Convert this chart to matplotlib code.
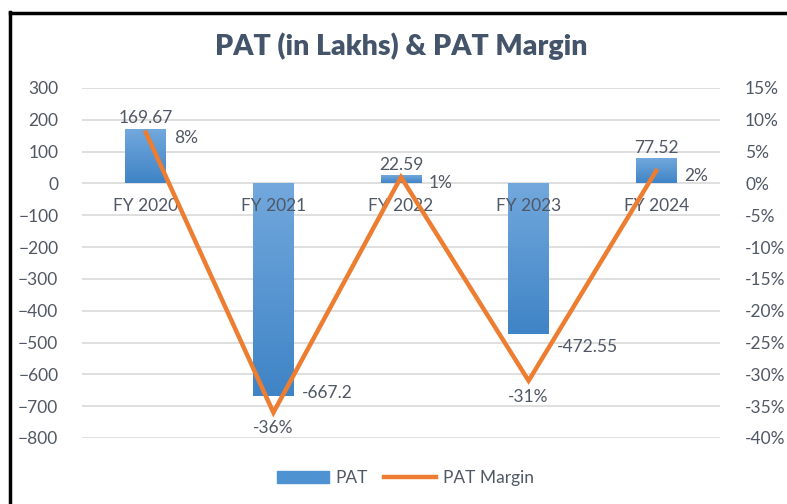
import matplotlib.pyplot as plt
from matplotlib.lines import Line2D
from matplotlib.ticker import FuncFormatter
from matplotlib.colors import LinearSegmentedColormap
import numpy as np

plt.rcParams['font.family'] = ['Lato', 'DejaVu Sans']

# Data
years = ['FY 2020', 'FY 2021', 'FY 2022', 'FY 2023', 'FY 2024']
pat = [169.67, -667.2, 22.59, -472.55, 77.52]
pat_labels = ['169.67', '-667.2', '22.59', '-472.55', '77.52']
margin = [8, -36, 1, -31, 2]

gray = '#505866'
bar_col = '#4F92D2'
line_col = '#ED7D31'
fs = 12.5

fig = plt.figure(figsize=(7.87, 5.04), dpi=100)
ax = fig.add_axes([82 / 787, 1 - 438 / 504, 638 / 787, 350 / 504])
ax2 = ax.twinx()

x = np.arange(len(years))
bars = ax.bar(x, pat, width=0.32, color='none', zorder=2)

# gradient fill, lighter at the top
cmap = LinearSegmentedColormap.from_list('blu', ['#3F84C6', '#72A8DD'])
grad = np.linspace(0, 1, 256).reshape(-1, 1)
for b in bars:
    x0, w = b.get_x(), b.get_width()
    y0, h = b.get_y(), b.get_height()
    ax.imshow(grad, cmap=cmap, origin='lower', aspect='auto', zorder=2,
              extent=[x0, x0 + w, min(y0, y0 + h), max(y0, y0 + h)])

ax2.plot(x, margin, color=line_col, linewidth=3.2, zorder=3, solid_joinstyle='miter')

ax.set_xlim(-0.5, 4.5)
ax.set_ylim(-800, 300)
ax.set_yticks(range(-800, 301, 100))
ax2.set_ylim(-40, 15)
ax2.set_yticks(range(-40, 16, 5))
ax2.yaxis.set_major_formatter(FuncFormatter(lambda v, p: f'{int(v)}%'))

ax.grid(axis='y', color='#D9D9D9', linewidth=1.2, zorder=0)
ax.set_axisbelow(True)
for a in (ax, ax2):
    for s in a.spines.values():
        s.set_visible(False)
    a.tick_params(length=0, labelsize=fs, labelcolor=gray)
ax.tick_params(axis='y', pad=17)
ax2.tick_params(axis='y', pad=18)

# category labels just under the zero line
ax.set_xticks([])
for i, name in enumerate(years):
    ax.text(i, -72, name, ha='center', va='center', fontsize=fs, color=gray, zorder=4)

# bar labels
neg_shift = [0, 10, 0, -40, 0]
for i, (v, lab) in enumerate(zip(pat, pat_labels)):
    if v >= 0:
        ax.text(i, v + 10, lab, ha='center', va='bottom', fontsize=fs, color=gray, zorder=4)
    else:
        ax.text(i + 0.22, v + neg_shift[i], lab, ha='left', va='center', fontsize=fs,
                color=gray, zorder=4)

# margin labels
for i, m in enumerate(margin):
    if m >= 0:
        ax2.text(i + 0.22, m - 0.9, f'{m}%', ha='left', va='center', fontsize=fs, color=gray)
    else:
        ax2.text(i, m - 2.5, f'{m}%', ha='center', va='center', fontsize=fs, color=gray)

fig.text(0.51, 0.908, 'PAT (in Lakhs) & PAT Margin', ha='center', va='center',
         fontsize=20.5, fontweight='heavy', color='#44546A')

handles = [plt.Rectangle((0, 0), 1, 1, color=bar_col),
           Line2D([0], [0], color=line_col, linewidth=3.2)]
fig.legend(handles, ['PAT', 'PAT Margin'], loc='center', bbox_to_anchor=(0.515, 1 - 478 / 504),
           ncol=2, frameon=False, fontsize=fs, labelcolor=gray, handlelength=3.0,
           handletextpad=0.4, columnspacing=0.9)

# frame around chart (left and top edges visible)
fig.add_artist(Line2D([9.5 / 787, 9.5 / 787], [0, 1 - 12 / 504], color='black', linewidth=2.5,
                      transform=fig.transFigure))
fig.add_artist(Line2D([9.5 / 787, 1], [1 - 13 / 504, 1 - 13 / 504], color='black', linewidth=2.5,
                      transform=fig.transFigure))

plt.savefig('out.png', dpi=100)
